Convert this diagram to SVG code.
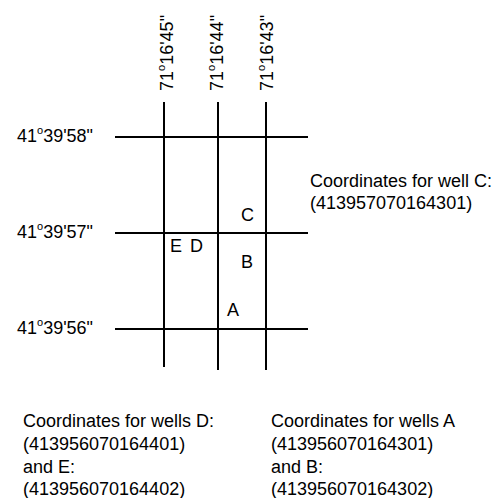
<svg xmlns="http://www.w3.org/2000/svg" width="498" height="498" viewBox="0 0 498 498">
  <style>
    text { font-family: "Liberation Sans", Arial, Helvetica, sans-serif; font-size: 18px; fill: #000; }
    .sup { font-size: 11px; }
    .grid line { stroke: #000; stroke-width: 2; }
  </style>
  <rect width="498" height="498" fill="#fff"/>

  <!-- coordinate grid -->
  <g id="grid" class="grid">
    <line x1="164" y1="102" x2="164" y2="367"/>
    <line x1="218" y1="102" x2="218" y2="370"/>
    <line x1="266" y1="102" x2="266" y2="370"/>
    <line x1="115" y1="137" x2="308" y2="137"/>
    <line x1="115" y1="233" x2="308" y2="233"/>
    <line x1="115" y1="329" x2="308" y2="329"/>
  </g>

  <!-- longitude labels -->
  <g id="longitudes">
    <text transform="translate(173,91) rotate(-90)">71<tspan class="sup" dy="-8">o</tspan><tspan dy="8">16'45"</tspan></text>
    <text transform="translate(223,91) rotate(-90)">71<tspan class="sup" dy="-8">o</tspan><tspan dy="8">16'44"</tspan></text>
    <text transform="translate(273,91) rotate(-90)">71<tspan class="sup" dy="-8">o</tspan><tspan dy="8">16'43"</tspan></text>
  </g>

  <!-- latitude labels -->
  <g id="latitudes" text-anchor="end">
    <text x="93" y="142">41<tspan class="sup" dy="-8">o</tspan><tspan dy="8">39'58"</tspan></text>
    <text x="93" y="238">41<tspan class="sup" dy="-8">o</tspan><tspan dy="8">39'57"</tspan></text>
    <text x="93" y="334">41<tspan class="sup" dy="-8">o</tspan><tspan dy="8">39'56"</tspan></text>
  </g>

  <!-- wells -->
  <g id="well-C"><text x="241" y="221">C</text></g>
  <g id="well-E"><text x="170" y="252">E</text></g>
  <g id="well-D"><text x="190" y="252">D</text></g>
  <g id="well-B"><text x="241" y="268">B</text></g>
  <g id="well-A"><text x="227" y="316">A</text></g>

  <!-- well coordinate notes -->
  <g id="note-C">
    <text x="310" y="187">Coordinates for well C:</text>
    <text x="310" y="209">(413957070164301)</text>
  </g>
  <g id="note-DE">
    <text x="23" y="427">Coordinates for wells D:</text>
    <text x="23" y="450">(413956070164401)</text>
    <text x="23" y="473">and E:</text>
    <text x="23" y="495">(413956070164402)</text>
  </g>
  <g id="note-AB">
    <text x="271" y="427">Coordinates for wells A</text>
    <text x="271" y="450">(413956070164301)</text>
    <text x="271" y="473">and B:</text>
    <text x="271" y="495">(413956070164302)</text>
  </g>
</svg>
